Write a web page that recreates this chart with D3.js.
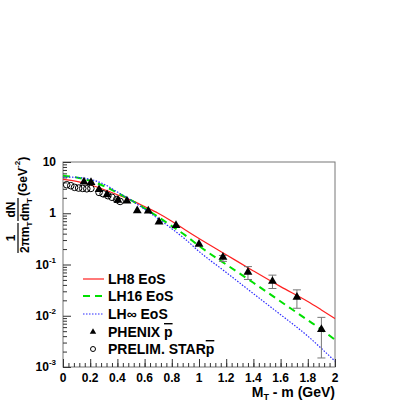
<!DOCTYPE html>
<html>
<head>
<meta charset="utf-8">
<script src="https://cdn.jsdelivr.net/npm/d3@7/dist/d3.min.js"></script>
<style>
body { margin: 0; background: #fff; }
svg { display: block; font-family: "Liberation Sans", Arial, sans-serif; font-weight: bold; }
</style>
</head>
<body>
<div id="chart"></div>
<script>
// model curves (hydro, three EoS)
var curveX = [0, 0.1, 0.2, 0.3, 0.4, 0.5, 0.6, 0.7, 0.8, 0.9, 1.0, 1.2, 1.4, 1.6, 1.8, 1.9, 2.0];
var lh8 =   [4.6, 4.2, 3.6, 2.9, 2.3, 1.8, 1.35, 1.0, 0.70, 0.47, 0.32, 0.155, 0.075, 0.037, 0.019, 0.013, 0.0088];
var lh16 =  [5.4, 5.0, 4.3, 3.4, 2.5, 1.8, 1.25, 0.85, 0.56, 0.37, 0.23, 0.10, 0.044, 0.019, 0.0082, 0.0054, 0.0034];
var lhInf = [5.1, 5.0, 4.6, 3.7, 2.6, 1.8, 1.2, 0.78, 0.50, 0.31, 0.18, 0.070, 0.027, 0.0105, 0.0040, 0.0023, 0.0013];

// PHENIX pbar
var phenixX =  [0.154, 0.206, 0.265, 0.324, 0.404, 0.470, 0.546, 0.627, 0.706, 0.831, 1.0, 1.176, 1.36, 1.54, 1.72, 1.90];
var phenixY =  [4.1, 4.0, 2.9, 2.3, 1.8, 1.74, 1.12, 1.11, 0.68, 0.58, 0.25, 0.139, 0.071, 0.047, 0.023, 0.0054];
var phenixLo = [null, null, null, null, null, null, null, null, null, null, null, 0.115, 0.051, 0.034, 0.014, 0.0015];
var phenixHi = [null, null, null, null, null, null, null, null, null, null, null, 0.150, 0.091, 0.062, 0.032, 0.0093];

// preliminary STAR pbar
var starX = [0.027, 0.057, 0.085, 0.115, 0.145, 0.175, 0.205, 0.265, 0.295, 0.33, 0.36, 0.395, 0.42];
var starY = [3.6, 3.45, 3.2, 3.1, 3.05, 3.0, 3.05, 2.55, 2.4, 2.2, 2.05, 1.85, 1.7];

var xTicks = [0, 0.2, 0.4, 0.6, 0.8, 1, 1.2, 1.4, 1.6, 1.8, 2];
var yTicks = [10, 1, 0.1, 0.01, 0.001];
var yExp = [1, 0, -1, -2, -3];

var W = 402, H = 402;
var L = 63, R = 335, T = 162, B = 367;

var svg = d3.select('#chart').append('svg').attr('width', W).attr('height', H);

var x = d3.scaleLinear().domain([0, 2]).range([L, R]);
var y = d3.scaleLog().domain([0.001, 10]).range([B, T]);

// frame
svg.append('rect').attr('x', L).attr('y', T).attr('width', R - L).attr('height', B - T)
    .attr('fill', 'none').attr('stroke', '#777').attr('stroke-width', 1);

// x axis ticks
var xMinor = d3.range(0, 2.001, 0.04);
svg.append('g').attr('transform', 'translate(0,' + B + ')')
    .call(d3.axisBottom(x).tickValues(xMinor).tickSize(-4).tickFormat(''))
    .call(function(g) { g.select('.domain').remove(); g.selectAll('line').attr('stroke', '#333'); });
svg.append('g').attr('transform', 'translate(0,' + B + ')')
    .call(d3.axisBottom(x).tickValues(xTicks).tickSize(-8).tickFormat(''))
    .call(function(g) { g.select('.domain').remove(); g.selectAll('line').attr('stroke', '#333'); });

svg.append('g').selectAll('text').data(xTicks).enter().append('text')
    .attr('x', function(d) { return x(d); })
    .attr('y', 382)
    .attr('text-anchor', 'middle')
    .attr('font-size', 12)
    .text(function(d) { return String(+d.toFixed(1)); });

// y axis ticks
var yMinor = [];
yExp.forEach(function(e) {
    if (e >= 1) return;
    for (var k = 2; k <= 9; k++) yMinor.push(k * Math.pow(10, e));
});
svg.append('g').attr('transform', 'translate(' + L + ',0)')
    .call(d3.axisLeft(y).tickValues(yMinor).tickSize(-4).tickFormat(''))
    .call(function(g) { g.select('.domain').remove(); g.selectAll('line').attr('stroke', '#333'); });
svg.append('g').attr('transform', 'translate(' + L + ',0)')
    .call(d3.axisLeft(y).tickValues(yTicks).tickSize(-8).tickFormat(''))
    .call(function(g) { g.select('.domain').remove(); g.selectAll('line').attr('stroke', '#333'); });

var yl = svg.append('g').selectAll('text').data(yTicks).enter().append('text')
    .attr('x', 56)
    .attr('y', function(d) { return y(d) + 4; })
    .attr('text-anchor', 'end')
    .attr('font-size', 12);
yl.each(function(d, i) {
    var t = d3.select(this), e = yExp[i];
    if (e === 1) t.text('10');
    else if (e === 0) t.text('1');
    else {
        t.append('tspan').text('10');
        t.append('tspan').attr('dy', -6).attr('font-size', 8).text(String(e));
    }
});

// curves
var line = d3.line()
    .x(function(d) { return x(d[0]); })
    .y(function(d) { return y(d[1]); })
    .curve(d3.curveMonotoneX);

function pairs(vals) { return curveX.map(function(v, i) { return [v, vals[i]]; }); }

var series = [
    { name: 'LH8 EoS', vals: lh8, color: '#ff2020', width: 1.2, dash: null },
    { name: 'LH16 EoS', vals: lh16, color: '#00e000', width: 2, dash: '7,5' },
    { name: 'LH\u221e EoS', vals: lhInf, color: '#2a2aff', width: 1.2, dash: '1.5,1.5' }
];

var plot = svg.append('g');
series.forEach(function(s) {
    plot.append('path').datum(pairs(s.vals))
        .attr('fill', 'none')
        .attr('stroke', s.color)
        .attr('stroke-width', s.width)
        .attr('stroke-dasharray', s.dash)
        .attr('d', line);
});

// PHENIX error bars
var tri = d3.symbol().type(d3.symbolTriangle).size(34);
phenixX.forEach(function(v, i) {
    if (phenixLo[i] === null) return;
    var g = plot.append('g').attr('stroke', '#777').attr('stroke-width', 1);
    g.append('line').attr('x1', x(v)).attr('x2', x(v)).attr('y1', y(phenixLo[i])).attr('y2', y(phenixHi[i]));
    g.append('line').attr('x1', x(v) - 4).attr('x2', x(v) + 4).attr('y1', y(phenixLo[i])).attr('y2', y(phenixLo[i]));
    g.append('line').attr('x1', x(v) - 4).attr('x2', x(v) + 4).attr('y1', y(phenixHi[i])).attr('y2', y(phenixHi[i]));
});

// STAR open circles
plot.append('g').selectAll('circle').data(starX).enter().append('circle')
    .attr('cx', function(d) { return x(d); })
    .attr('cy', function(d, i) { return y(starY[i]); })
    .attr('r', 3.3)
    .attr('fill', 'none')
    .attr('stroke', '#000')
    .attr('stroke-width', 1);

// PHENIX triangles
plot.append('g').selectAll('path').data(phenixX).enter().append('path')
    .attr('d', tri)
    .attr('transform', function(d, i) { return 'translate(' + x(d) + ',' + y(phenixY[i]) + ')'; })
    .attr('fill', '#000');

// legend
var legRows = [279, 296, 314, 332, 349];
var leg = svg.append('g').attr('font-size', 14);
series.forEach(function(s, i) {
    leg.append('line').attr('x1', 83).attr('x2', 104).attr('y1', legRows[i]).attr('y2', legRows[i])
        .attr('stroke', s.color).attr('stroke-width', s.width).attr('stroke-dasharray', s.dash);
    leg.append('text').attr('x', 108).attr('y', legRows[i] + 5).text(s.name);
});
leg.append('path').attr('d', d3.symbol().type(d3.symbolTriangle).size(18))
    .attr('transform', 'translate(93,' + legRows[3] + ')').attr('fill', '#000');
leg.append('circle').attr('cx', 93).attr('cy', legRows[4]).attr('r', 2.5)
    .attr('fill', 'none').attr('stroke', '#000');
var t4 = leg.append('text').attr('x', 108).attr('y', legRows[3] + 5);
t4.append('tspan').text('PHENIX ');
t4.append('tspan').attr('text-decoration', 'overline').text('p');
var t5 = leg.append('text').attr('x', 108).attr('y', legRows[4] + 5);
t5.append('tspan').text('PRELIM. STAR');
t5.append('tspan').attr('text-decoration', 'overline').text('p');

// x title
var xt = svg.append('text').attr('x', R).attr('y', 397).attr('text-anchor', 'end').attr('font-size', 14);
xt.append('tspan').text('M');
xt.append('tspan').attr('font-size', 9).attr('dy', 3).text('T');
xt.append('tspan').attr('dy', -3).text(' - m (GeV)');

// y title (rotated fraction)
var yt = svg.append('g').attr('transform', 'translate(18,254) rotate(-90)').attr('font-size', 12);
yt.append('line').attr('x1', 1).attr('x2', 31).attr('y1', 0).attr('y2', 0).attr('stroke', '#000').attr('stroke-width', 1.2);
yt.append('line').attr('x1', 33).attr('x2', 56).attr('y1', 0).attr('y2', 0).attr('stroke', '#000').attr('stroke-width', 1.2);
yt.append('text').attr('x', 16).attr('y', -3).attr('text-anchor', 'middle').text('1');
var d1 = yt.append('text').attr('x', 1).attr('y', 11);
d1.append('tspan').text('2\u03c0m');
d1.append('tspan').attr('font-size', 8).attr('dy', 3).text('T');
yt.append('text').attr('x', 44.5).attr('y', -3).attr('text-anchor', 'middle').text('dN');
var d2 = yt.append('text').attr('x', 33).attr('y', 11);
d2.append('tspan').text('dm');
d2.append('tspan').attr('font-size', 8).attr('dy', 3).text('T');
var gev = yt.append('text').attr('x', 58).attr('y', 9);
gev.append('tspan').text('(GeV');
gev.append('tspan').attr('font-size', 8).attr('dy', -7).text('-2');
gev.append('tspan').attr('dy', 7).text(')');
</script>
</body>
</html>
